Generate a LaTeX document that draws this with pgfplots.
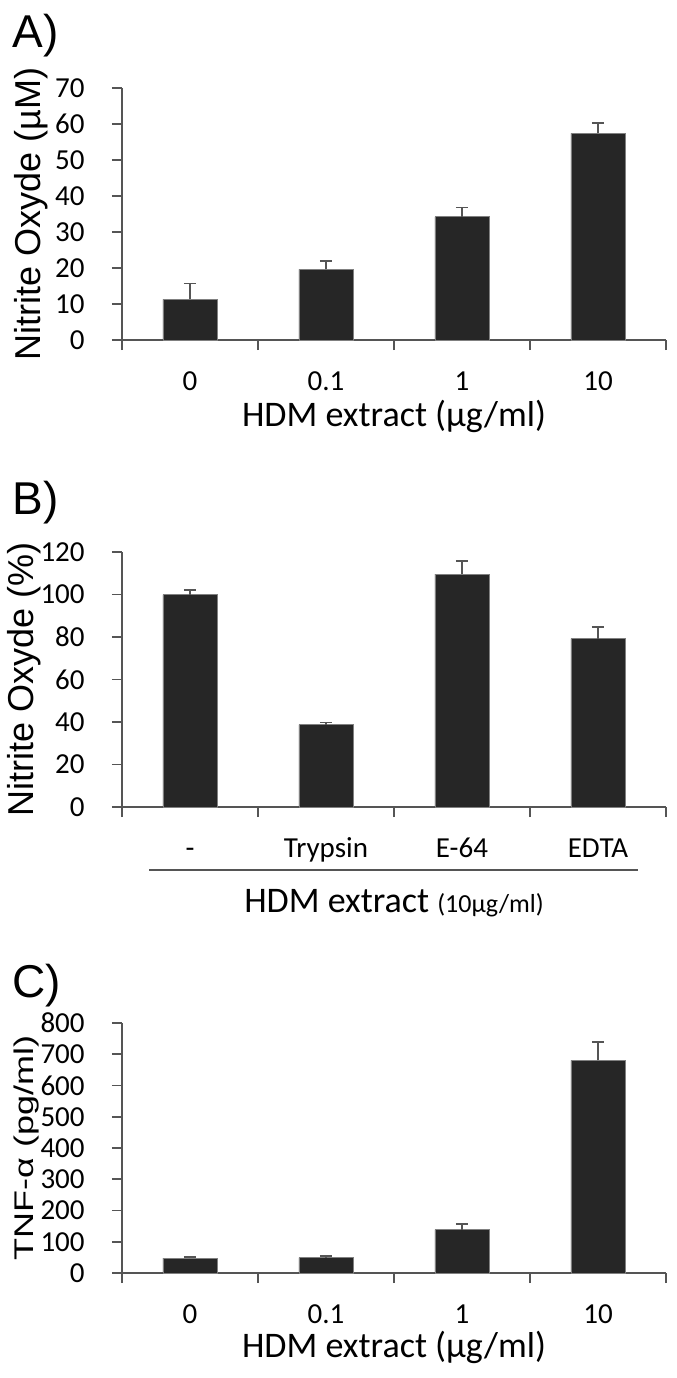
\documentclass[border=0pt]{standalone}
\usepackage{graphicx}
\usepackage{pgfplots}
\pgfplotsset{compat=1.18}
\usepackage{fontspec}
\setmainfont{Carlito}
\newfontfamily\arial{Liberation Sans}
\definecolor{barfill}{RGB}{38,38,38}
\definecolor{axisgray}{RGB}{85,85,85}

% 1px of the reference = 0.5pt
\pgfplotsset{
  panel/.style={
    scale only axis, width=272pt,
    xmin=-0.5, xmax=3.5, ymin=0,
    axis x line=bottom, axis y line=left,
    axis line style={-, draw=axisgray, line width=0.8pt},
    tick align=outside, major tick length=5pt,
    tick style={draw=axisgray, line width=0.8pt},
    xtick={-0.5,0.5,1.5,2.5,3.5}, xticklabels={},
    extra x ticks={0,1,2,3},
    extra x tick style={major tick length=0pt,
      xticklabel style={anchor=base, yshift=-25pt}},
    tick label style={font=\fontsize{14.5}{17}\selectfont},
    yticklabel style={inner sep=0pt, xshift=-13.5pt},
    /pgf/number format/assume math mode=true,
    every axis y label/.style={rotate=90, anchor=base, inner sep=0pt,
      font=\arial\fontsize{18}{21.6}\selectfont},
    every axis x label/.style={at={(axis description cs:0.5,0)},
      anchor=base, font=\fontsize{18}{21.6}\selectfont},
  },
  bars/.style={ybar, bar width=27pt, fill=barfill, draw=gray, line width=0.4pt,
    error bars/.cd, y dir=plus, y explicit,
    error bar style={draw=axisgray, line width=0.9pt},
    error mark options={rotate=90, mark size=3pt, line width=0.9pt, draw=axisgray}},
}
\tikzset{letter/.style={anchor=north west, inner sep=0pt,
  font=\arial\fontsize{23}{26}\selectfont}}

\begin{document}
\begin{tikzpicture}
\path (0,0) rectangle (338pt,-689pt);

% A
\node[letter] at (6pt,-7pt) {A)};
\begin{axis}[panel, at={(61pt,-170pt)}, anchor=south west,
  height=126pt, ymax=70, ytick={0,10,...,70},
  extra x tick labels={0,0.1,1,10},
  ylabel={Nitrite Oxyde (µM)},
  ylabel style={at={(axis description cs:-0.1507,0.5)}},
  xlabel={HDM extract (µg/ml)}, xlabel style={yshift=-43pt}]
\addplot[bars] coordinates {
  (0,11.3) +- (0,4.4)
  (1,19.6) +- (0,2.4)
  (2,34.2) +- (0,2.6)
  (3,57.4) +- (0,2.9)
};
\end{axis}

% B
\node[letter] at (6pt,-240.5pt) {B)};
\begin{axis}[panel, at={(61pt,-403.5pt)}, anchor=south west,
  height=127.5pt, ymax=120, ytick={0,20,...,120},
  extra x tick labels={-,Trypsin,E-64,EDTA},
  ylabel={Nitrite Oxyde (\%)},
  ylabel style={at={(axis description cs:-0.1618,0.5)}},
  xlabel={HDM extract {\fontsize{13}{15}\selectfont(10µg/ml)}},
  xlabel style={yshift=-52.5pt}]
\addplot[bars] coordinates {
  (0,99.9) +- (0,2.3)
  (1,38.8) +- (0,1.0)
  (2,109.6) +- (0,6.3)
  (3,79.3) +- (0,5.6)
};
\end{axis}
\draw[draw=axisgray, line width=1pt] (74.5pt,-435pt) -- (319pt,-435pt);

% C
\node[letter] at (6pt,-482pt) {C)};
\begin{axis}[panel, at={(61pt,-636.5pt)}, anchor=south west,
  height=125pt, ymax=800, ytick={0,100,...,800},
  extra x tick labels={0,0.1,1,10},
  ylabel={\scalebox{1}[0.75]{TNF-α (pg/ml)}},
  ylabel style={at={(axis description cs:-0.1636,0.5)}},
  xlabel={HDM extract (µg/ml)}, xlabel style={yshift=-42pt}]
\addplot[bars] coordinates {
  (0,48) +- (0,3)
  (1,49) +- (0,5)
  (2,138.7) +- (0,17)
  (3,680.5) +- (0,58.5)
};
\end{axis}
\end{tikzpicture}
\end{document}
